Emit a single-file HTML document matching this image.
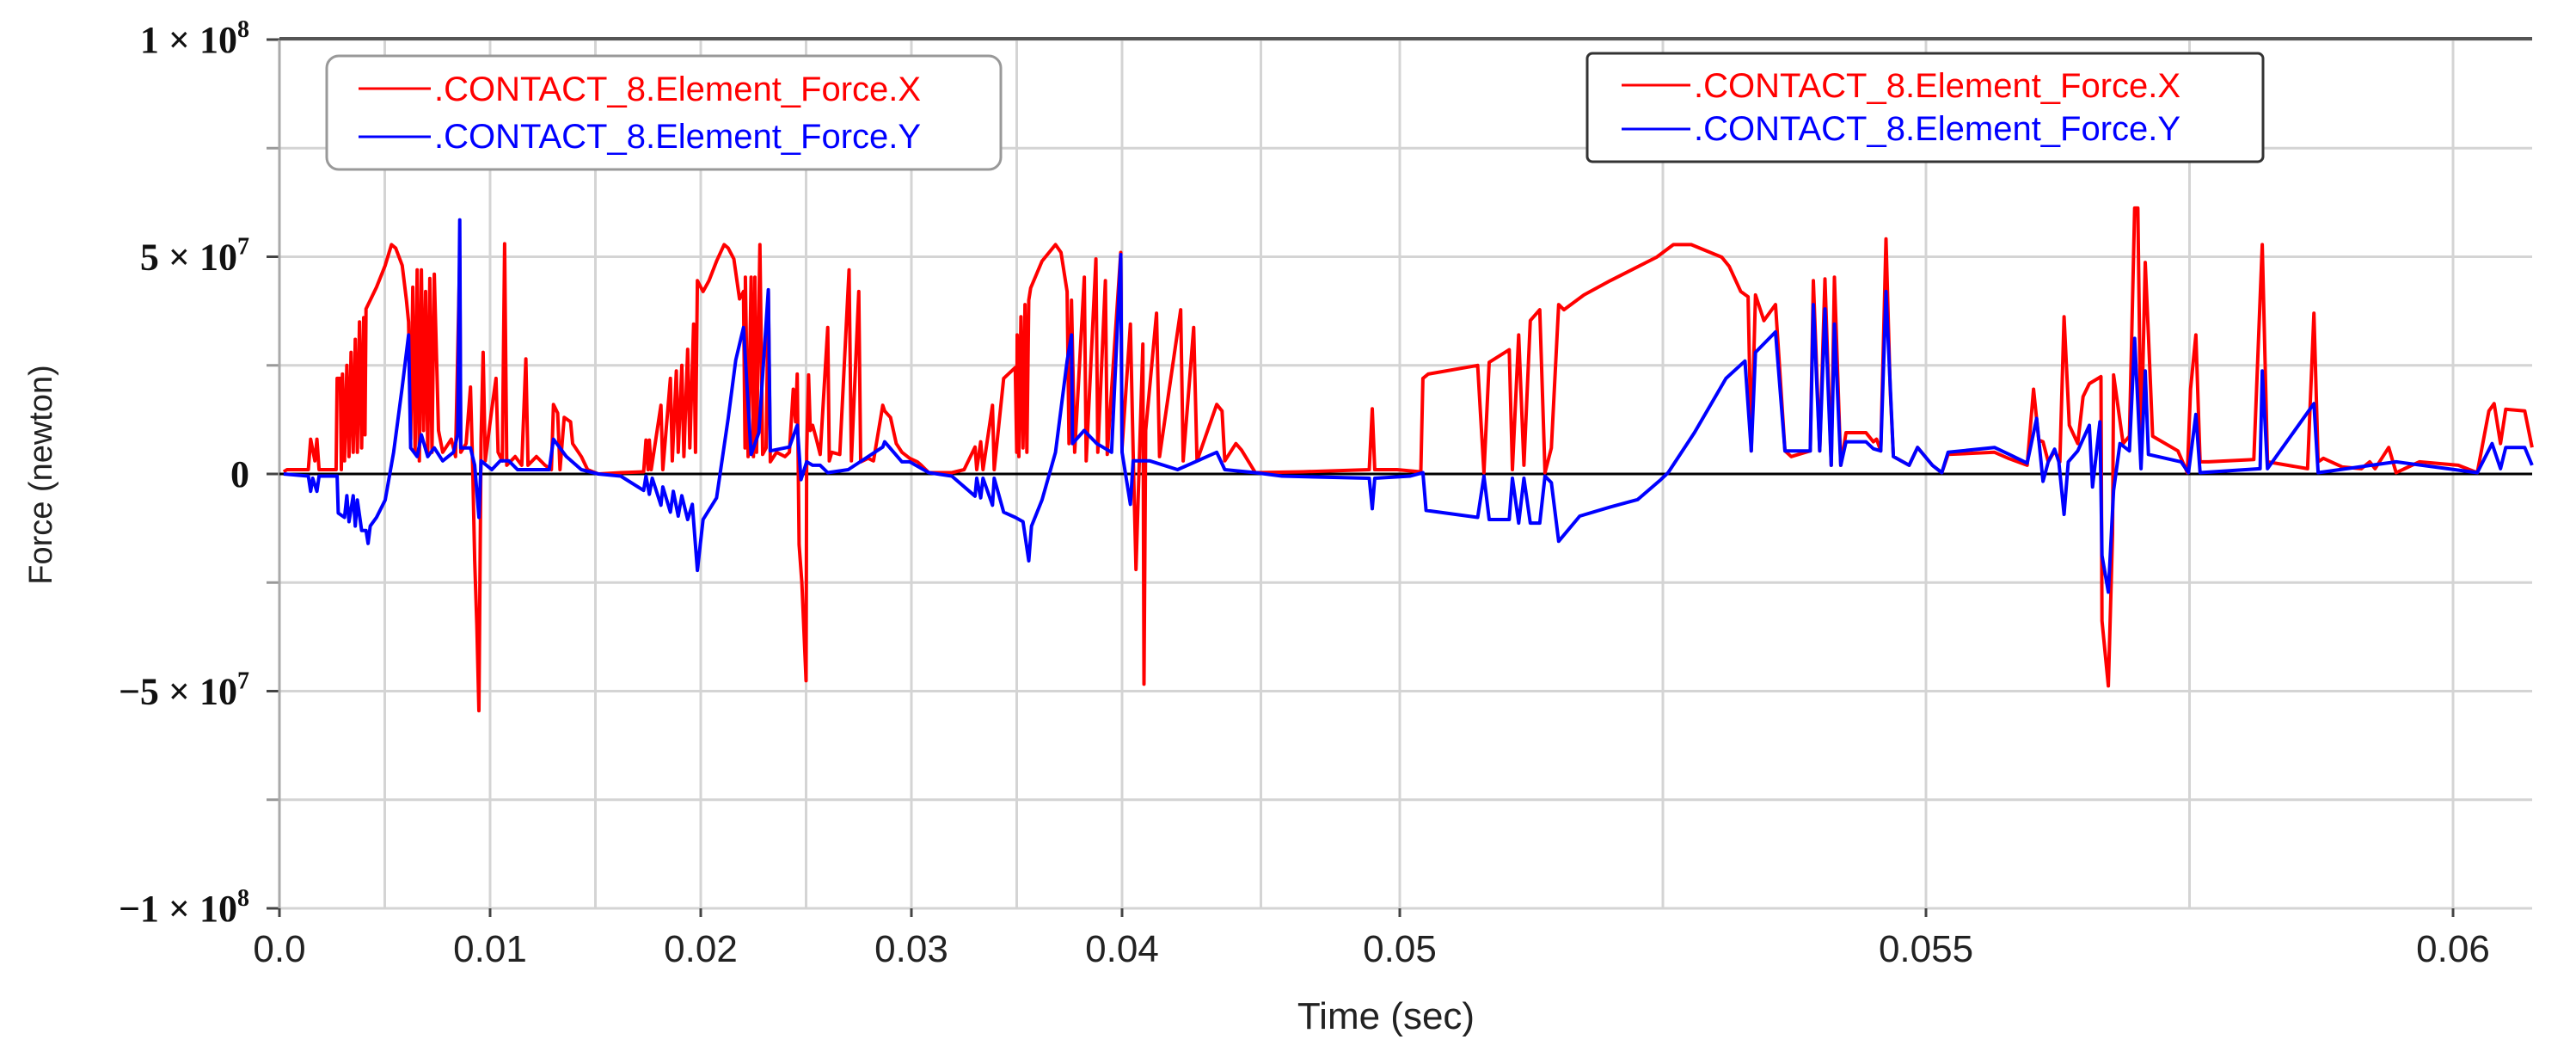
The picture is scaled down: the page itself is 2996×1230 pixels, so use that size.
<!DOCTYPE html>
<html><head><meta charset="utf-8"><style>
html,body{margin:0;padding:0;background:#fff;}
svg{display:block;}
</style></head><body>
<svg id="chart" width="2996" height="1230" viewBox="0 0 2996 1230" xmlns="http://www.w3.org/2000/svg">
<g id="grid"></g>
<g id="axes"></g>
<g id="series"></g>
<text x="0" y="0" transform="translate(60,552) rotate(-90)" text-anchor="middle" font-family="Liberation Sans, sans-serif" font-size="38" fill="#222">Force (newton)</text>
<text x="1612" y="1196" text-anchor="middle" font-family="Liberation Sans, sans-serif" font-size="44" fill="#222">Time (sec)</text>
<g>
<rect x="380" y="65" width="784" height="132" rx="14" fill="#fff" stroke="#999" stroke-width="3"/>
<line x1="417" y1="103" x2="501" y2="103" stroke="#ff0000" stroke-width="3"/>
<text x="505" y="117" font-family="Liberation Sans, sans-serif" font-size="40" fill="#ff0000">.CONTACT_8.Element_Force.X</text>
<line x1="417" y1="159" x2="501" y2="159" stroke="#0000ff" stroke-width="3"/>
<text x="505" y="172" font-family="Liberation Sans, sans-serif" font-size="40" fill="#0000ff">.CONTACT_8.Element_Force.Y</text>
</g>
<g>
<rect x="1846" y="62" width="786" height="126" rx="6" fill="#fff" stroke="#333" stroke-width="3"/>
<line x1="1886" y1="99" x2="1966" y2="99" stroke="#ff0000" stroke-width="3"/>
<text x="1970" y="113" font-family="Liberation Sans, sans-serif" font-size="40" fill="#ff0000">.CONTACT_8.Element_Force.X</text>
<line x1="1886" y1="150" x2="1966" y2="150" stroke="#0000ff" stroke-width="3"/>
<text x="1970" y="163" font-family="Liberation Sans, sans-serif" font-size="40" fill="#0000ff">.CONTACT_8.Element_Force.Y</text>
</g>
</svg>
<script>
// x-axis ticks (ms) and labels; axis is piecewise (stitched)
const tickMs = [0, 10, 20, 30, 40, 50, 55, 60];
const tickLabels = ["0.0", "0.01", "0.02", "0.03", "0.04", "0.05", "0.055", "0.06"];
const gridMs = [5, 10, 15, 20, 25, 30, 35, 40, 45, 50, 52.5, 55, 57.5, 60];
const yTicks = [10, 5, 0, -5, -10];           // units of 1e7 N
const yTickBase = ["1", "5", "0", "\u22125", "\u22121"];
const yTickExp = ["8", "7", "", "7", "8"];
const yGrid = [10, 7.5, 5, 2.5, 0, -2.5, -5, -7.5, -10];

const tRed = [0.2,0.36,1.37,1.48,1.68,1.78,1.88,2.69,2.74,2.89,2.94,2.99,3.09,3.2,3.3,3.4,3.5,3.6,3.7,3.8,3.9,4.0,4.06,4.11,4.31,4.61,5.02,5.32,5.52,5.83,6.03,6.13,6.23,6.33,6.44,6.54,6.64,6.74,6.84,6.94,7.04,7.14,7.24,7.35,7.55,7.75,8.16,8.36,8.56,8.61,8.86,9.07,9.17,9.27,9.37,9.47,9.57,9.67,9.77,10.08,10.28,10.38,10.58,10.69,10.79,11.19,11.5,11.7,11.8,12.2,12.61,12.91,13.01,13.21,13.32,13.52,13.82,13.92,14.33,14.63,15.14,
16.2,17.29,17.4,17.5,17.56,17.65,18.11,18.2,18.56,18.65,18.84,18.93,19.1,19.2,19.38,19.48,19.66,19.75,19.84,20.11,20.39,20.75,21.11,21.3,21.57,21.84,22.03,22.1,22.12,22.25,22.39,22.5,22.57,22.65,22.81,22.94,23.1,23.21,23.3,23.6,24.0,24.21,24.39,24.5,24.58,24.67,24.8,25.0,25.03,25.12,25.2,25.31,25.49,25.67,26.03,26.1,26.22,26.6,27.04,27.15,27.5,27.59,27.95,28.2,28.64,28.73,29.01,29.28,29.55,29.92,30.28,30.47,30.83,
31.92,32.5,33.02,33.1,33.29,33.4,33.85,33.93,34.38,34.93,35.0,35.02,35.1,35.2,35.3,35.39,35.48,35.57,35.66,36.2,36.84,37.1,37.39,37.48,37.6,37.75,38.21,38.3,38.76,38.85,39.21,39.3,39.94,40.0,40.3,40.4,40.5,40.75,40.79,40.85,41.24,41.35,42.11,42.2,42.58,42.7,43.41,43.6,43.7,44.1,44.3,44.8,46.5,48.9,49.01,49.1,49.9,
50.2,50.22,50.27,50.74,50.8,50.85,51.04,51.07,51.13,51.18,51.24,51.33,51.38,51.44,51.51,51.56,51.75,52.0,52.44,52.6,52.77,53.06,53.13,53.24,53.31,53.34,53.38,53.46,53.57,53.66,53.72,53.9,53.93,53.99,54.04,54.1,54.13,54.19,54.24,54.43,54.5,54.53,54.57,54.62,54.66,54.69,54.84,54.92,55.06,55.15,55.21,55.65,55.79,
55.96,56.02,56.07,56.11,56.16,56.22,56.27,56.31,56.36,56.44,56.49,56.55,56.66,56.67,56.73,56.77,56.78,56.87,56.93,56.98,57.01,57.04,57.08,57.11,57.15,57.39,57.48,57.51,57.56,57.6,57.68,58.11,58.17,58.19,58.24,58.62,58.68,58.72,58.77,58.95,59.13,59.21,59.26,59.39,59.46,59.68,60.05,60.23,60.34,60.39,60.45,60.5,60.68,60.75];
const fRed = [0.05,0.1,0.1,0.8,0.3,0.8,0.1,0.1,2.2,2.2,0.1,2.3,0.3,2.5,0.4,2.8,0.5,3.1,0.5,3.5,0.6,3.6,0.9,3.8,4.0,4.3,4.8,5.28,5.2,4.8,4.0,3.5,0.8,4.3,0.5,4.7,0.3,4.7,1.0,4.2,0.5,4.5,0.5,4.6,1.0,0.5,0.8,0.4,5.0,0.5,0.7,2.0,0.2,-2.0,-3.5,-5.45,0.8,2.8,0.3,1.5,2.2,0.5,0.3,5.3,0.2,0.4,0.2,2.65,0.2,0.4,0.2,0.1,1.6,1.4,0.1,1.3,1.2,0.7,0.4,0.1,0,
0.03,0.05,0.78,0.1,0.78,0.1,1.58,0.1,2.2,0.3,2.37,0.5,2.5,0.4,2.87,0.6,3.45,0.5,4.45,4.2,4.45,4.9,5.28,5.2,4.95,4.03,4.2,0.6,4.53,0.4,4.53,0.4,4.53,0.5,5.28,0.45,0.6,4.2,0.28,0.5,0.4,0.5,1.95,1.2,2.3,-1.63,-2.5,-4.76,0.5,2.28,1.0,1.12,0.8,0.45,3.37,0.3,0.5,0.45,4.7,0.3,4.2,0.28,0.36,0.3,1.58,1.45,1.3,0.7,0.5,0.36,0.28,0.2,0.03,
0.03,0.1,0.62,0.1,0.74,0.1,1.58,0.1,2.2,2.45,0.5,3.2,0.4,3.62,0.6,3.9,0.5,4.0,4.28,4.9,5.28,5.1,4.2,0.7,4.0,0.5,4.53,0.3,4.95,0.5,4.45,0.45,5.1,0.6,3.45,0.5,-2.2,2.99,-4.84,1.0,3.7,0.4,3.78,0.3,3.37,0.3,1.6,1.45,0.3,0.7,0.55,0.03,0.05,0.1,1.5,0.1,0.1,
0.05,2.2,2.3,2.5,0.03,2.57,2.86,0.1,3.2,0.2,3.53,3.78,0.03,0.6,3.9,3.78,4.12,4.45,4.99,5.28,5.28,4.99,4.78,4.2,4.08,0.53,4.12,3.53,3.9,0.53,0.4,0.53,4.45,0.53,4.49,0.2,4.53,0.2,0.95,0.95,0.74,0.8,0.53,5.41,1.95,0.4,0.2,0.61,0.2,0.03,0.45,0.5,0.35,
0.2,1.95,0.78,0.74,0.28,0.53,0.28,3.62,1.12,0.7,1.78,2.08,2.24,-3.38,-4.88,-1.38,2.28,0.7,0.87,6.12,6.12,0.53,4.87,3.2,0.87,0.53,0.03,1.95,3.2,0.28,0.28,0.33,4.03,5.28,0.28,0.12,3.7,0.28,0.36,0.16,0.12,0.28,0.12,0.61,0.03,0.28,0.2,0.03,1.45,1.62,0.7,1.49,1.45,0.61];

const tBlue = [0.2,1.37,1.48,1.58,1.78,1.88,2.74,2.79,3.09,3.2,3.3,3.5,3.6,3.7,3.9,4.11,4.21,4.31,4.61,5.02,5.42,5.83,6.13,6.23,6.54,6.74,7.04,7.35,7.75,8.26,8.46,8.56,8.61,9.07,9.27,9.47,9.57,10.08,10.48,10.89,11.3,12.81,13.01,13.62,14.33,15.14,
16.2,17.29,17.4,17.56,17.7,18.11,18.2,18.56,18.7,18.93,19.1,19.38,19.6,19.84,20.11,20.75,21.3,21.66,22.03,22.39,22.76,23.21,23.3,24.21,24.58,24.76,25.03,25.31,25.67,26.03,27.0,28.64,28.73,29.55,29.92,30.83,
31.92,33.02,33.1,33.29,33.4,33.85,33.93,34.38,34.93,35.3,35.57,35.7,36.2,36.84,37.39,37.6,37.65,38.2,38.8,39.5,39.94,40.0,40.3,40.4,41.0,42.0,43.41,43.7,44.8,45.76,48.9,49.01,49.1,50.1,
50.22,50.25,50.74,50.8,50.85,51.04,51.07,51.13,51.18,51.24,51.33,51.38,51.44,51.51,51.71,52.0,52.26,52.48,52.55,52.8,53.1,53.28,53.34,53.38,53.57,53.66,53.9,53.93,53.99,54.04,54.1,54.13,54.19,54.24,54.43,54.5,54.57,54.62,54.69,54.84,54.92,55.06,55.15,55.21,55.65,55.79,
55.96,56.05,56.11,56.16,56.22,56.26,56.31,56.35,56.44,56.55,56.58,56.65,56.67,56.73,56.78,56.84,56.93,56.98,57.04,57.08,57.11,57.42,57.49,57.56,57.6,58.17,58.19,58.24,58.68,58.72,59.46,60.23,60.37,60.45,60.5,60.68,60.75];
const fBlue = [0,-0.05,-0.4,-0.1,-0.4,-0.05,-0.05,-0.9,-1.0,-0.5,-1.1,-0.5,-1.2,-0.6,-1.3,-1.3,-1.6,-1.2,-1.0,-0.6,0.5,2.0,3.2,0.6,0.4,0.9,0.4,0.6,0.3,0.5,0.9,5.85,0.6,0.6,0.2,-1.0,0.3,0.1,0.3,0.3,0.1,0.1,0.8,0.4,0.1,0,
-0.05,-0.38,-0.05,-0.47,-0.1,-0.72,-0.3,-0.88,-0.4,-0.97,-0.5,-1.05,-0.7,-2.22,-1.05,-0.55,1.28,2.62,3.37,0.45,0.95,4.24,0.53,0.62,1.12,-0.13,0.28,0.2,0.2,0.03,0.1,0.62,0.74,0.28,0.28,0.03,
-0.05,-0.51,-0.1,-0.55,-0.1,-0.72,-0.1,-0.88,-1.0,-1.1,-2.0,-1.2,-0.6,0.5,2.6,3.2,0.7,1.0,0.7,0.5,5.05,0.5,-0.7,0.3,0.3,0.1,0.5,0.1,0.03,-0.05,-0.1,-0.8,-0.1,-0.05,
0.03,-0.84,-1.0,-0.05,-1.05,-1.05,-0.1,-1.13,-0.1,-1.13,-1.13,-0.05,-0.2,-1.55,-0.97,-0.76,-0.59,-0.13,0.03,0.95,2.2,2.6,0.53,2.8,3.27,0.53,0.53,3.9,0.53,3.8,0.2,3.45,0.2,0.74,0.74,0.58,0.53,4.2,0.4,0.2,0.61,0.2,0.03,0.5,0.61,0.45,
0.25,1.28,-0.17,0.28,0.57,0.28,-0.93,0.28,0.53,1.12,-0.3,1.2,-1.88,-2.72,-0.38,0.7,0.53,3.12,0.12,2.37,0.45,0.28,0.03,1.37,0.03,0.12,2.37,0.12,1.62,0.03,0.28,0.03,0.7,0.12,0.61,0.61,0.2];

const NS = "http://www.w3.org/2000/svg";
const tickPx = [325, 570, 815, 1060, 1305, 1628, 2240, 2853];
const plotLeft = 325, plotRight = 2945, yTop = 46, yBottom = 1056;
function xScale(ms) {
  let i = 0;
  while (i < tickMs.length - 2 && ms > tickMs[i + 1]) i++;
  const a = tickMs[i], b = tickMs[i + 1];
  return tickPx[i] + (ms - a) / (b - a) * (tickPx[i + 1] - tickPx[i]);
}
function yScale(v) { return yTop + (10 - v) / 20 * (yBottom - yTop); }
function mk(tag, attrs, parent) {
  const e = document.createElementNS(NS, tag);
  for (const k in attrs) e.setAttribute(k, attrs[k]);
  parent.appendChild(e);
  return e;
}
const grid = document.getElementById('grid');
const axes = document.getElementById('axes');
const series = document.getElementById('series');

yGrid.forEach(v => {
  const l = mk('line', {x1: plotLeft, x2: plotRight, y1: yScale(v), y2: yScale(v), stroke: '#d4d4d4', 'stroke-width': 3}, grid);
  
  
  const tk = mk('line', {x1: plotLeft - 15, x2: plotLeft, y1: yScale(v), y2: yScale(v), stroke: (v % 5 === 0) ? '#444' : '#999', 'stroke-width': 3}, axes);
  
  
});
gridMs.forEach(m => {
  const l = mk('line', {x1: xScale(m), x2: xScale(m), y1: yTop, y2: yBottom, stroke: '#d4d4d4', 'stroke-width': 3}, grid);
  
  
});
const la = mk('line', {x1: plotLeft, x2: plotLeft, y1: yTop, y2: yBottom, stroke: '#aaa', 'stroke-width': 3}, axes);


const ta = mk('line', {x1: plotLeft, x2: plotRight, y1: 45, y2: 45, stroke: '#555', 'stroke-width': 4}, axes);


const zl = mk('line', {x1: plotLeft, x2: plotRight, y1: yScale(0), y2: yScale(0), stroke: '#000', 'stroke-width': 3}, axes);



tickMs.forEach((m, i) => {
  const tk = mk('line', {x1: xScale(m), x2: xScale(m), y1: yBottom, y2: yBottom + 10, stroke: '#444', 'stroke-width': 3}, axes);
  
  
  const t = mk('text', {x: xScale(m), y: 1118, 'text-anchor': 'middle', 'font-family': 'Liberation Sans, sans-serif', 'font-size': 44, fill: '#222'}, axes);
  
  
  t.textContent = tickLabels[i];
});
yTicks.forEach((v, i) => {
  const t = mk('text', {x: 290, y: yScale(v) + 15, 'text-anchor': 'end', 'font-family': 'Liberation Serif, serif', 'font-size': 44, 'font-weight': 'bold', fill: '#111'}, axes);
  
  
  if (yTickExp[i]) {
    t.appendChild(document.createTextNode(yTickBase[i] + ' \u00d7 10'));
    const s = document.createElementNS(NS, 'tspan');
    s.setAttribute('font-size', '28');
    s.setAttribute('dy', '-18');
    s.textContent = yTickExp[i];
    t.appendChild(s);
  } else {
    t.textContent = yTickBase[i];
  }
});

function drawSeries(ts, fs, color, name) {
  let d = '';
  ts.forEach((m, i) => { d += (i ? 'L' : 'M') + xScale(m).toFixed(1) + ',' + yScale(fs[i]).toFixed(1); });
  const p = mk('path', {d: d, fill: 'none', stroke: color, 'stroke-width': 4, 'stroke-linejoin': 'round'}, series);
  
  
}
drawSeries(tRed, fRed, '#ff0000', 'series-force-x');
drawSeries(tBlue, fBlue, '#0000ff', 'series-force-y');
</script>
</body></html>
